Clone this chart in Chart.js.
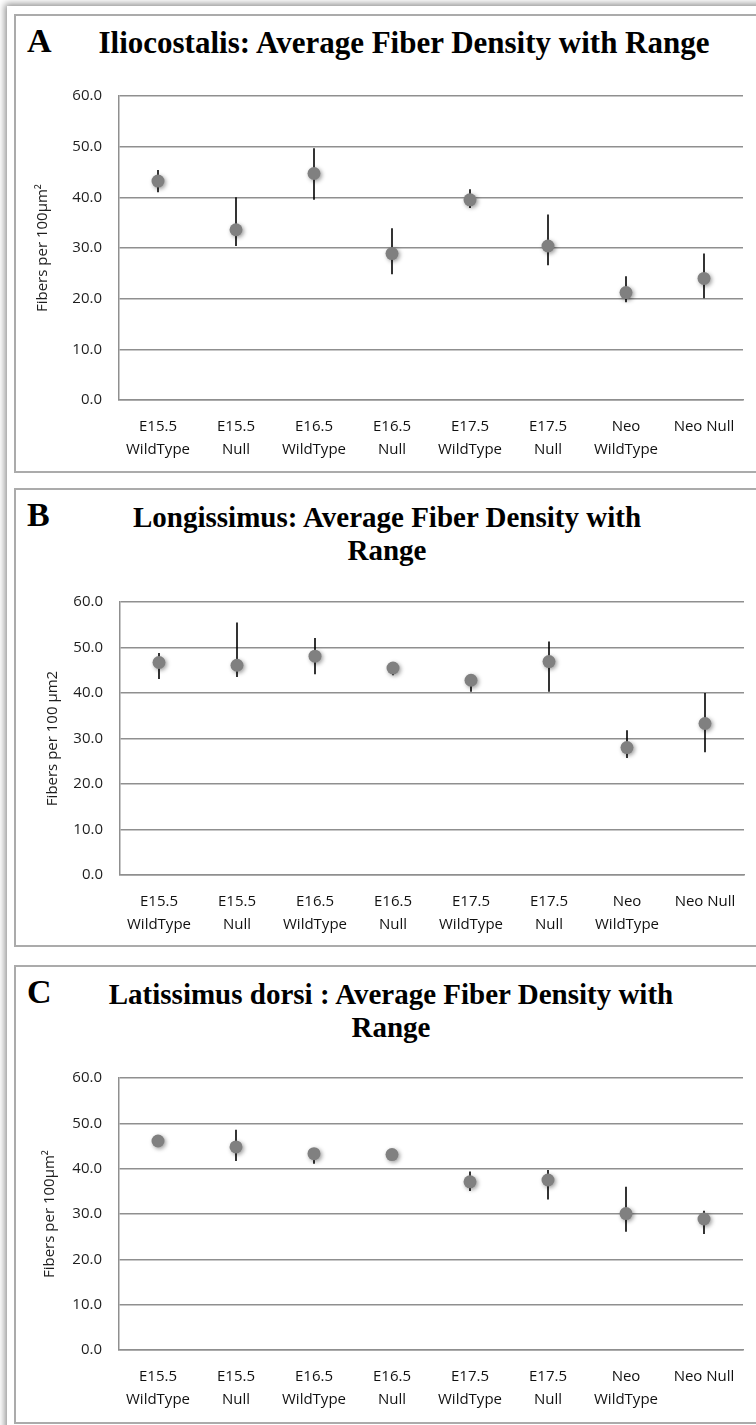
<!DOCTYPE html>
<html>
<head>
<meta charset="utf-8">
<script src="https://cdn.jsdelivr.net/npm/chart.js@4.4.1/dist/chart.umd.min.js"></script>
<style>
    html, body { margin: 0; padding: 0; background: #fff; }
    body { width: 756px; height: 1425px; position: relative; overflow: hidden; }
    .frame {
        position: absolute; left: 7px; top: 6px; width: 780px; height: 1450px;
        background: #fff; box-shadow: -2px -2px 7px rgba(0, 0, 0, 0.45);
    }
    .panel {
        position: absolute; left: 14px; width: 780px; height: 459px;
        box-sizing: border-box; border: 2px solid #ababab; background: #fff;
    }
    .letter {
        position: absolute; left: 27px; font: bold 34px "Liberation Serif", serif;
        line-height: 34px; color: #000;
    }
    .title {
        position: absolute; width: 740px; text-align: center;
        font-family: "Liberation Serif", serif; font-weight: bold;
        line-height: 33px; color: #000;
    }
    canvas { position: absolute; left: 0; }
</style>
</head>
<body>
<div class="frame"></div>

<div class="panel" style="top:14px"></div>
<div class="letter" style="top:24px">A</div>
<div class="title" style="top:26px; left:34px; font-size:31px">Iliocostalis: Average Fiber Density with Range</div>
<canvas id="chartA" width="756" height="400" style="top:70px"></canvas>

<div class="panel" style="top:488px"></div>
<div class="letter" style="top:498px">B</div>
<div class="title" style="top:501px; left:17px; font-size:29px">Longissimus: Average Fiber Density with<br>Range</div>
<canvas id="chartB" width="756" height="369" style="top:576px"></canvas>

<div class="panel" style="top:965px"></div>
<div class="letter" style="top:975px">C</div>
<div class="title" style="top:978px; left:21px; font-size:29px">Latissimus dorsi : Average Fiber Density with<br>Range</div>
<canvas id="chartC" width="756" height="368" style="top:1052px"></canvas>

<script>
const categories = [
    ['E15.5', 'WildType'], ['E15.5', 'Null'], ['E16.5', 'WildType'], ['E16.5', 'Null'],
    ['E17.5', 'WildType'], ['E17.5', 'Null'], ['Neo', 'WildType'], 'Neo Null'
];

// A - Iliocostalis
const ilioMean = [43.2, 33.6, 44.7, 28.9, 39.5, 30.4, 21.2, 24.0];
const ilioLow  = [41.0, 30.4, 39.5, 24.8, 37.9, 26.6, 19.3, 20.1];
const ilioHigh = [45.4, 40.0, 49.7, 33.9, 41.6, 36.6, 24.4, 28.9];

// B - Longissimus
const longMean = [46.7, 46.1, 48.1, 45.5, 42.8, 46.9, 28.0, 33.3];
const longLow  = [43.1, 43.5, 44.1, 43.9, 40.3, 40.3, 25.7, 27.0];
const longHigh = [48.8, 55.5, 52.1, 46.0, 43.5, 51.3, 31.8, 40.0];

// C - Latissimus dorsi
const latMean = [46.1, 44.8, 43.3, 43.1, 37.1, 37.5, 30.1, 28.9];
const latLow  = [45.5, 41.7, 41.1, 42.8, 35.1, 33.2, 26.1, 25.6];
const latHigh = [46.6, 48.6, 44.0, 43.4, 39.4, 39.7, 36.0, 30.7];

const yMin = 0, yMax = 60, yStep = 10;

const sansFont = '"Open Sans", "DejaVu Sans", sans-serif';
const gridColor = '#8f8f8f';

// vertical range lines, drawn under the dots; dots get a soft shadow
function rangeBars(low, high) {
    return {
        id: 'rangeBars',
        beforeDatasetsDraw(chart) {
            const { ctx, scales: { x, y } } = chart;
            ctx.save();
            ctx.strokeStyle = '#000';
            ctx.lineWidth = 1.6;
            low.forEach((lo, i) => {
                const px = x.getPixelForValue(i);
                ctx.beginPath();
                ctx.moveTo(px, y.getPixelForValue(lo));
                ctx.lineTo(px, y.getPixelForValue(high[i]));
                ctx.stroke();
            });
            ctx.restore();
            ctx.save();
            ctx.shadowColor = 'rgba(0,0,0,0.4)';
            ctx.shadowBlur = 4;
            ctx.shadowOffsetX = 1.5;
            ctx.shadowOffsetY = 1.5;
        },
        afterDatasetsDraw(chart) {
            chart.ctx.restore();
        }
    };
}

function makeChart(id, mean, low, high, yTitle, yWidth, padRight, titlePad) {
    const el = document.getElementById(id);
    if (!el) return;
    new Chart(el, {
        type: 'line',
        data: {
            labels: categories,
            datasets: [{
                data: mean,
                showLine: false,
                pointRadius: 6.5,
                pointBorderWidth: 0,
                pointBackgroundColor: '#808080',
                pointBorderColor: '#808080',
            }]
        },
        options: {
            responsive: false,
            animation: false,
            devicePixelRatio: 1,
            layout: { padding: { top: 16, right: padRight, bottom: 0, left: 0 } },
            plugins: {
                legend: { display: false },
                tooltip: { enabled: false }
            },
            scales: {
                y: {
                    min: yMin,
                    max: yMax,
                    ticks: {
                        stepSize: yStep,
                        padding: 17,
                        color: '#1e1e1e',
                        font: { family: sansFont, size: 15 },
                        callback: v => Number(v).toFixed(1)
                    },
                    grid: { color: gridColor, lineWidth: 1.5, drawTicks: false },
                    border: { color: gridColor, width: 1.5 },
                    title: {
                        display: true,
                        text: yTitle,
                        color: '#1e1e1e',
                        font: { family: sansFont, size: 15 },
                        padding: { top: titlePad, bottom: 0 }
                    },
                    afterFit: s => { s.width = yWidth; }
                },
                x: {
                    offset: true,
                    ticks: {
                        padding: 15,
                        maxRotation: 0,
                        autoSkip: false,
                        color: '#111',
                        font: { family: sansFont, size: 15, lineHeight: 1.53 }
                    },
                    grid: { display: false, drawTicks: false },
                    border: { color: gridColor, width: 1.5 },
                    afterFit: s => { s.height = 70; }
                }
            }
        },
        plugins: [rangeBars(low, high)]
    });
}

document.addEventListener('DOMContentLoaded', function () {
    makeChart('chartA', ilioMean, ilioLow, ilioHigh, 'Fibers per 100µm²', 119, 13, 34);
    makeChart('chartB', longMean, longLow, longHigh, 'Fibers per 100 µm2', 120, 12, 44);
    makeChart('chartC', latMean, latLow, latHigh, 'Fibers per 100µm²', 119, 13, 41);
});
</script>
</body>
</html>
